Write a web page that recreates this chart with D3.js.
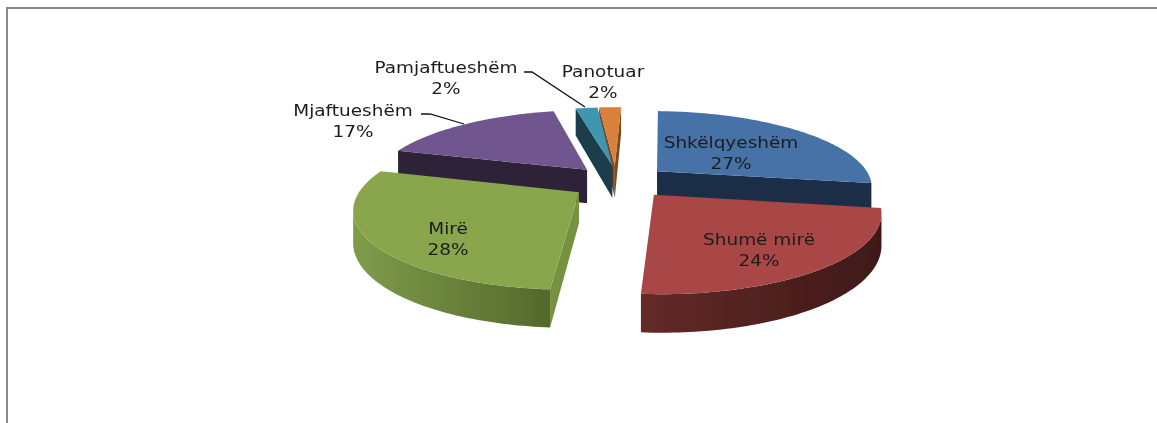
<!DOCTYPE html>
<html>
<head>
<meta charset="utf-8">
<script src="https://cdn.jsdelivr.net/npm/d3@7"></script>
<style>
html, body { margin: 0; padding: 0; background: #fff; }
svg { display: block; }
text { font-family: "DejaVu Sans", sans-serif; font-size: 16.5px; fill: #1c1c1c; text-anchor: middle; }
</style>
</head>
<body>
<div id="chart"></div>
<script>
var categories = ["Shkëlqyeshëm", "Shumë mirë", "Mirë", "Mjaftueshëm", "Pamjaftueshëm", "Panotuar"];
var percents = [27, 23.6, 28.4, 17, 2, 2];

var width = 1157,
	height = 423;

// look of each slice, same order as categories
var topColors = ["#4672a8", "#a84644", "#8aa64e", "#70558e", "#3f96b0", "#d9803c"];
var cutColors = ["#1a2d47", "#3f1a18", "#76913f", "#2d2238", "#1b3e4b", "#7a4a1f"];
var wallFrom = ["#1a2d47", "#642a28", "#7f9c4a", "#2d2238", "#1b3e4b", "#7a4a1f"];
var wallTo = ["#1a2d47", "#3e1918", "#54682c", "#2d2238", "#1b3e4b", "#7a4a1f"];
var drawOrder = [3, 0, 5, 4, 2, 1];

// small per slice fixes, the picture is not a clean projection
var nudges = [[1, 0], [3, 1], [-5, 2], [-5, 0], [-3, 0], [-6, 0]];
var depthBoost = [1, 1, 1, 1.15, 1.1, 1.1];

// label anchors in page pixels, and the two leader lines
var labelPos = [[731, 142], [759, 239], [448, 228], [353, 110], [446, 67], [603, 71]];
var leaders = [
	[[421, 114], [430, 114], [464, 124]],
	[[524, 72], [532, 72], [585, 107]]
];

// fake 3d pie: ground plane seen in perspective
var cx = 622, cy = 181,
	radiusX = 215,
	radiusY = 75,
	persp = 0.19,
	depth = 30,
	explode = 0.21,
	rotation = 2 * Math.PI / 180;

function project(u, v, down) {
	var s = 1 / (1 - persp * v);
	return [cx + u * radiusX * s, cy + v * radiusY * s + (down ? down * s : 0)];
}

var pie = d3.pie().sort(null)
	.startAngle(rotation)
	.endAngle(Math.PI * 2 + rotation)
	.value(function (d) { return d; });
var slices = pie(percents);
var line = d3.line();

function geometry(d) {
	var mid = (d.startAngle + d.endAngle) / 2;
	var ox = Math.sin(mid) * explode,
		oy = -Math.cos(mid) * explode;
	var rim = function (a) { return [ox + Math.sin(a), oy - Math.cos(a)]; };
	var n = Math.max(4, Math.ceil((d.endAngle - d.startAngle) / 0.02));
	var angles = d3.range(n + 1).map(function (i) {
		return d.startAngle + (d.endAngle - d.startAngle) * i / n;
	});
	return { apex: [ox, oy], rim: angles.map(rim) };
}

function wallPath(points, drop) {
	var up = points.map(function (p) { return project(p[0], p[1], 0); });
	var low = points.map(function (p) { return project(p[0], p[1], drop); }).reverse();
	return line(up.concat(low)) + "Z";
}

var svg = d3.select("#chart").append("svg")
	.attr("width", width)
	.attr("height", height);

var defs = svg.append("defs");

// the reference is a soft screenshot
defs.append("filter")
	.attr("id", "soft")
	.append("feGaussianBlur")
	.attr("stdDeviation", 0.4);

// frame of the pasted chart, only top and left show
svg.append("path")
	.attr("d", "M7,423V8H1157")
	.attr("fill", "none")
	.attr("stroke", "#8a8a8a")
	.attr("stroke-width", 2);

drawOrder.forEach(function (i) {
	var g = geometry(slices[i]);
	var drop = depth * depthBoost[i];
	var group = svg.append("g")
		.attr("class", "slice")
		.attr("filter", "url(#soft)")
		.attr("transform", "translate(" + nudges[i] + ")");
	var rimScreen = g.rim.map(function (p) { return project(p[0], p[1], 0); });

	// walls only where the clockwise outline runs leftwards, the rest is hidden
	var first = g.rim[0], last = g.rim[g.rim.length - 1];
	[[last, g.apex], [g.apex, first]].forEach(function (edge) {
		var a = project(edge[0][0], edge[0][1], 0),
			b = project(edge[1][0], edge[1][1], 0);
		if (b[0] < a[0]) {
			group.append("path")
				.attr("d", wallPath(edge, drop))
				.attr("fill", cutColors[i]);
		}
	});

	var front = g.rim.filter(function (p, j) {
		var next = rimScreen[j + 1], prev = rimScreen[j - 1];
		return (next && next[0] < rimScreen[j][0]) || (prev && rimScreen[j][0] < prev[0]);
	});
	if (front.length > 1) {
		var xs = d3.extent(front, function (p) { return project(p[0], p[1], 0)[0]; });
		var grad = defs.append("linearGradient")
			.attr("id", "wall" + i)
			.attr("gradientUnits", "userSpaceOnUse")
			.attr("x1", xs[0]).attr("x2", xs[1])
			.attr("y1", 0).attr("y2", 0);
		grad.append("stop").attr("offset", 0).attr("stop-color", wallFrom[i]);
		grad.append("stop").attr("offset", 1).attr("stop-color", wallTo[i]);
		group.append("path")
			.attr("d", wallPath(front, drop))
			.attr("fill", "url(#wall" + i + ")");
	}

	var outline = [project(g.apex[0], g.apex[1], 0)].concat(rimScreen);
	group.append("path")
		.attr("d", line(outline) + "Z")
		.attr("fill", topColors[i]);
});

svg.selectAll("path.leader")
	.data(leaders)
	.enter()
	.append("path")
	.attr("class", "leader")
	.attr("d", function (d) { return line(d); })
	.attr("fill", "none")
	.attr("stroke", "#111")
	.attr("stroke-width", 1.3);

var labels = svg.selectAll("g.label")
	.data(categories)
	.enter()
	.append("g")
	.attr("class", "label")
	.attr("filter", "url(#soft)")
	.attr("transform", function (d, i) { return "translate(" + labelPos[i] + ") scale(1.12,1)"; });

labels.append("text")
	.attr("dy", ".35em")
	.text(function (d) { return d; });

labels.append("text")
	.attr("y", 21)
	.attr("dy", ".35em")
	.text(function (d, i) { return Math.round(percents[i]) + "%"; });
</script>
</body>
</html>
